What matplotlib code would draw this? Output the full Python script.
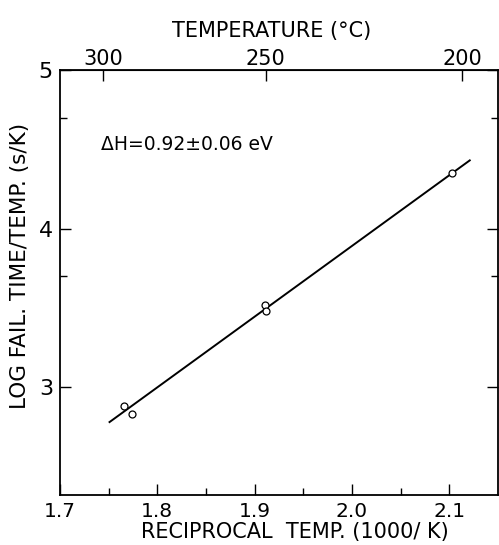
import matplotlib
matplotlib.use('Agg')
import matplotlib.pyplot as plt
from matplotlib.ticker import FixedLocator
import numpy as np


# measured failure times
inv_temp = [1.766, 1.774, 1.911, 1.912, 2.103]        # 1000/K
log_fail = [2.88, 2.83, 3.52, 3.48, 4.35]             # log(t/T)

# least-squares line
fit_x = [1.751, 2.121]
fit_y = [2.78, 4.43]

x_major = [1.7, 1.8, 1.9, 2.0, 2.1]
x_labels = ['1.7', '1.8', '1.9', '2.0', '2.1']
x_minor = [1.75, 1.85, 1.95, 2.05]
y_major = [3, 4, 5]
y_minor = [3.699, 4.699]
temp_c = [300, 250, 200]

plt.rcParams['font.family'] = ['DejaVu Sans']

fig = plt.figure(figsize=(4.99, 5.45), dpi=100)
ax = fig.add_axes([0.120, 0.0917, 0.878, 0.7799])

ax.plot(fit_x, fit_y, color='black', lw=1.4, zorder=2)
ax.plot(inv_temp, log_fail, ls='none', marker='o', ms=5, mfc='white',
        mec='black', mew=0.9, zorder=3)

ax.set_xlim(1.7, 2.15)
ax.set_ylim(2.32, 5.0)

ax.xaxis.set_major_locator(FixedLocator(x_major))
ax.set_xticklabels(x_labels)
ax.xaxis.set_minor_locator(FixedLocator(x_minor))
ax.yaxis.set_major_locator(FixedLocator(y_major))
ax.yaxis.set_minor_locator(FixedLocator(y_minor))

ax.tick_params(which='both', direction='in', top=False, right=True, width=1.0)
ax.tick_params(which='major', length=8)
ax.tick_params(which='minor', length=5)
ax.tick_params(axis='x', which='major', labelsize=14.5, pad=5)
ax.tick_params(axis='y', which='major', labelsize=16, pad=5)

for s in ax.spines.values():
    s.set_linewidth(1.3)

ax.set_xlabel('RECIPROCAL  TEMP. (1000/ K)', fontsize=15, labelpad=1, x=0.537)
ax.set_ylabel('LOG FAIL. TIME/TEMP. (s/K)', fontsize=15.5, labelpad=6, y=0.54)

# temperature scale along the top
top = ax.secondary_xaxis('top', functions=(lambda x: 1000.0 / np.asarray(x, float) - 273.15,
                                           lambda t: 1000.0 / (np.asarray(t, float) + 273.15)))
top.xaxis.set_major_locator(FixedLocator(temp_c))
top.tick_params(direction='in', length=8, width=1.0, labelsize=15, pad=1)
top.set_xlabel('TEMPERATURE (°C)', fontsize=15, labelpad=8, x=0.484)

ax.text(1.742, 4.53, 'ΔH=0.92±0.06 eV', fontsize=13.5, va='center', ha='left')

fig.savefig('out.png', dpi=100)
